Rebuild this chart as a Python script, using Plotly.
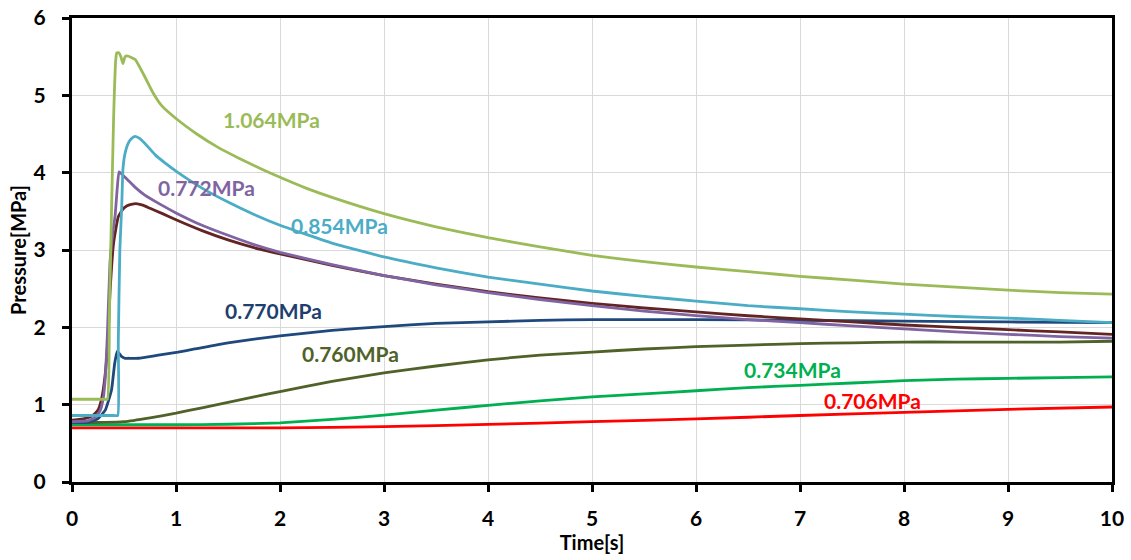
import plotly.graph_objects as go

# ---------------- data ----------------
t_1064 = [0, 0.1, 0.2, 0.3, 0.34, 0.36, 0.38, 0.40, 0.42, 0.43, 0.45, 0.47, 0.49, 0.51, 0.53, 0.57,
          0.61, 0.70, 0.78, 0.86, 1.0, 1.2, 1.4, 1.6, 1.8, 2.0, 2.25, 2.5, 3.0, 3.5, 4.0, 4.5, 5.0,
          5.5, 6.0, 6.5, 7.0, 7.5, 8.0, 8.5, 9.0, 9.5, 10.0]
p_1064 = [1.07, 1.07, 1.07, 1.07, 1.07, 2.2, 3.5, 4.7, 5.45, 5.55, 5.55, 5.50, 5.41, 5.50, 5.51, 5.49,
          5.46, 5.24, 5.03, 4.87, 4.70, 4.50, 4.33, 4.19, 4.06, 3.94, 3.80, 3.68, 3.47, 3.30, 3.16,
          3.04, 2.93, 2.85, 2.78, 2.72, 2.66, 2.61, 2.56, 2.52, 2.48, 2.45, 2.43]

t_854 = [0, 0.1, 0.2, 0.3, 0.4, 0.44, 0.445, 0.46, 0.478, 0.49, 0.51, 0.54, 0.57, 0.606, 0.654, 0.72,
         0.8, 0.9, 1.0, 1.25, 1.5, 1.75, 2.0, 2.5, 3.0, 3.5, 4.0, 4.5, 5.0, 5.5, 6.0, 6.5, 7.0, 7.5,
         8.0, 8.5, 9.0, 9.5, 10.0]
p_854 = [0.86, 0.86, 0.86, 0.86, 0.86, 0.86, 1.8, 3.0, 3.56, 4.05, 4.25, 4.38, 4.44, 4.47, 4.44, 4.35,
         4.23, 4.12, 4.02, 3.80, 3.62, 3.46, 3.32, 3.09, 2.91, 2.77, 2.65, 2.56, 2.47, 2.40, 2.34, 2.28,
         2.24, 2.20, 2.17, 2.14, 2.12, 2.09, 2.06]

t_772 = [0, 0.15, 0.22, 0.27, 0.30, 0.32, 0.34, 0.365, 0.39, 0.415, 0.435, 0.452, 0.48, 0.54, 0.6,
         0.7, 0.85, 1.0, 1.25, 1.5, 1.75, 2.0, 2.5, 3.0, 3.5, 4.0, 4.5, 5.0, 5.5, 6.0, 6.5, 7.0, 7.5,
         8.0, 8.5, 9.0, 9.5, 10.0]
p_772 = [0.78, 0.79, 0.83, 0.92, 1.08, 1.35, 1.9, 2.83, 3.2, 3.45, 3.8, 4.01, 3.98, 3.90, 3.82,
         3.71, 3.59, 3.48, 3.32, 3.19, 3.07, 2.97, 2.81, 2.67, 2.55, 2.45, 2.36, 2.28, 2.21, 2.15, 2.10,
         2.06, 2.02, 1.98, 1.94, 1.91, 1.88, 1.86]

t_brown = [0, 0.12, 0.2, 0.25, 0.28, 0.30, 0.33, 0.35, 0.365, 0.40, 0.445, 0.49, 0.526, 0.57, 0.615,
           0.68, 0.75, 0.87, 1.0, 1.25, 1.5, 1.75, 2.0, 2.5, 3.0, 3.5, 4.0, 4.5, 5.0, 5.5, 6.0, 6.5,
           7.0, 7.5, 8.0, 8.5, 9.0, 9.5, 10.0]
p_brown = [0.80, 0.82, 0.86, 0.93, 1.05, 1.19, 1.54, 1.97, 2.44, 3.09, 3.43, 3.53, 3.57, 3.59, 3.60,
           3.58, 3.54, 3.47, 3.39, 3.25, 3.13, 3.03, 2.95, 2.80, 2.67, 2.56, 2.46, 2.38, 2.31, 2.25,
           2.20, 2.15, 2.11, 2.07, 2.03, 2.00, 1.97, 1.94, 1.91]

t_770 = [0, 0.15, 0.25, 0.32, 0.38, 0.41, 0.435, 0.455, 0.478, 0.51, 0.54, 0.64, 0.83, 1.02, 1.18,
         1.5, 2.0, 2.5, 3.0, 3.5, 4.0, 4.5, 5.0, 5.5, 6.0, 7.0, 8.0, 9.0, 10.0]
p_770 = [0.77, 0.77, 0.82, 0.93, 1.19, 1.53, 1.69, 1.66, 1.62, 1.60, 1.60, 1.60, 1.64, 1.68, 1.72,
         1.80, 1.89, 1.96, 2.01, 2.05, 2.07, 2.09, 2.10, 2.10, 2.10, 2.09, 2.08, 2.07, 2.06]

t_760 = [0, 0.3, 0.5, 0.75, 1.0, 1.25, 1.5, 1.75, 2.0, 2.5, 3.0, 3.5, 4.0, 4.5, 5.0, 5.5, 6.0, 6.5,
         7.0, 7.5, 8.0, 8.5, 9.0, 9.5, 10.0]
p_760 = [0.77, 0.77, 0.78, 0.83, 0.89, 0.96, 1.03, 1.10, 1.17, 1.30, 1.41, 1.50, 1.58, 1.64, 1.68,
         1.72, 1.75, 1.77, 1.79, 1.80, 1.81, 1.81, 1.81, 1.81, 1.82]

t_734 = [0, 1.0, 1.5, 2.0, 2.5, 3.0, 3.5, 4.0, 4.5, 5.0, 5.5, 6.0, 6.5, 7.0, 7.5, 8.0, 8.5, 9.0, 9.5, 10.0]
p_734 = [0.74, 0.74, 0.747, 0.765, 0.81, 0.865, 0.93, 0.99, 1.05, 1.10, 1.14, 1.18, 1.22, 1.25, 1.28,
         1.31, 1.33, 1.34, 1.35, 1.36]

t_706 = [0, 1.0, 2.0, 3.0, 4.0, 5.0, 6.0, 7.0, 8.0, 9.0, 10.0]
p_706 = [0.70, 0.70, 0.70, 0.715, 0.745, 0.78, 0.815, 0.86, 0.90, 0.94, 0.97]

series = [
    ("0.706MPa", t_706, p_706, "#FF0000"),
    ("0.734MPa", t_734, p_734, "#00B050"),
    ("0.760MPa", t_760, p_760, "#4F6228"),
    ("0.770MPa", t_770, p_770, "#1F497D"),
    ("brown", t_brown, p_brown, "#632523"),
    ("0.772MPa", t_772, p_772, "#8064A2"),
    ("0.854MPa", t_854, p_854, "#4BACC6"),
    ("1.064MPa", t_1064, p_1064, "#9BBB59"),
]

label_text = ["1.064MPa", "0.772MPa", "0.854MPa", "0.770MPa", "0.760MPa", "0.734MPa", "0.706MPa"]
label_t = [1.92, 1.29, 2.57, 1.94, 2.68, 6.93, 7.70]
label_p = [4.69, 3.81, 3.32, 2.215, 1.66, 1.46, 1.06]
label_color = ["#9BBB59", "#8064A2", "#4BACC6", "#1F3F6E", "#4F6228", "#00B050", "#FF0000"]

x_ticks = list(range(0, 11))
y_ticks = list(range(0, 7))

FONT = "Lato"

fig = go.Figure()
for name, t, p, c in series:
    fig.add_trace(go.Scatter(x=t, y=p, mode="lines", name=name,
                             line=dict(color=c, width=2.8, shape="spline", smoothing=0.4),
                             showlegend=False))

for txt, tx, py, c in zip(label_text, label_t, label_p, label_color):
    fig.add_annotation(x=tx, y=py, xref="x", yref="y", text=txt, showarrow=False,
                       font=dict(family=FONT, size=21, color=c, weight="bold"),
                       xanchor="center", yanchor="middle")

axis_common = dict(
    showline=True, linecolor="black", linewidth=3, mirror=True,
    showgrid=True, gridcolor="#D9D9D9", gridwidth=1.3,
    zeroline=False, ticks="outside", ticklen=7, tickwidth=3, tickcolor="black",
    tickfont=dict(family=FONT, size=21, color="black", weight="bold"),
)

fig.update_xaxes(range=[0, 10], tickvals=x_ticks, ticktext=[str(v) for v in x_ticks],
                 title=dict(text="Time[s]", font=dict(family=FONT, size=20, color="black", weight="bold"),
                            standoff=6),
                 ticklabelstandoff=9, **axis_common)
fig.update_yaxes(range=[0, 6], tickvals=y_ticks, ticktext=[str(v) for v in y_ticks],
                 title=dict(text="Pressure[MPa]", font=dict(family=FONT, size=20, color="black", weight="bold"),
                            standoff=2),
                 ticklabelstandoff=12, **axis_common)

fig.update_layout(
    width=1131, height=560,
    margin=dict(l=72, r=19, t=18, b=78, autoexpand=False),
    paper_bgcolor="white", plot_bgcolor="white",
    showlegend=False,
)

fig.write_html("out.html")
